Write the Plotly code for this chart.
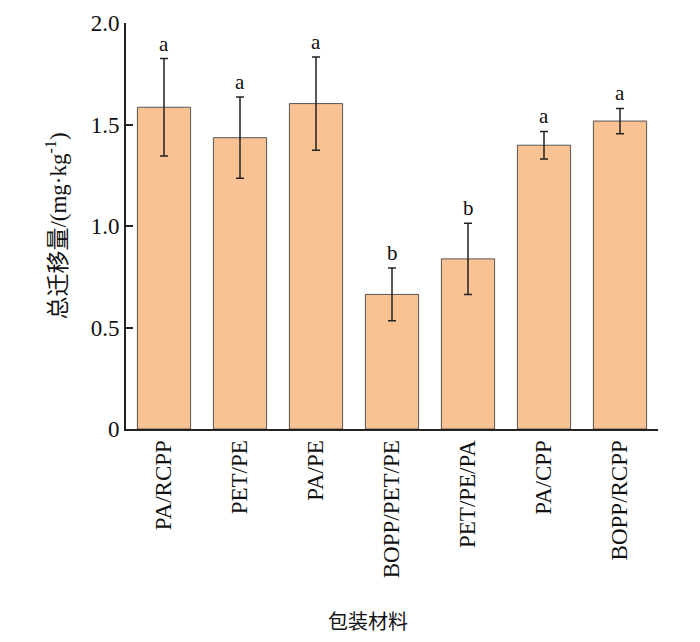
import plotly.graph_objects as go

categories = ["PA/RCPP", "PET/PE", "PA/PE", "BOPP/PET/PE", "PET/PE/PA", "PA/CPP", "BOPP/RCPP"]
values = [1.585, 1.435, 1.603, 0.663, 0.838, 1.398, 1.517]
errors = [0.24, 0.20, 0.23, 0.13, 0.175, 0.068, 0.062]
letters = ["a", "a", "a", "b", "b", "a", "a"]
ytick_vals = [0, 0.5, 1.0, 1.5, 2.0]
ytick_text = ["0", "0.5", "1.0", "1.5", "2.0"]

FONT = "Liberation Serif, Times New Roman, Noto Sans CJK SC, serif"

fig = go.Figure()
fig.add_trace(go.Bar(
    x=categories, y=values, width=0.7,
    marker=dict(color="#F8C293", line=dict(color="#555555", width=1)),
    error_y=dict(type="data", array=errors, visible=True, color="#222222", thickness=1.5, width=4),
    showlegend=False,
))

for c, v, e, t in zip(categories, values, errors, letters):
    fig.add_annotation(x=c, y=v + e, text=t, showarrow=False, yanchor="bottom", yshift=1,
                       font=dict(family=FONT, size=21, color="#111111"))

fig.add_annotation(xref="paper", yref="paper", x=(368 - 126) / (658 - 126), y=-(620 - 429) / (429 - 23),
                   text="包装材料", showarrow=False, xanchor="center", yanchor="middle",
                   font=dict(family="Noto Sans CJK SC", size=20, color="#111111"))

fig.update_layout(
    width=684, height=626,
    margin=dict(l=118, r=34, t=15, b=205),
    plot_bgcolor="white", paper_bgcolor="white",
    font=dict(family=FONT, size=23, color="#111111"),
    bargap=0.3,
)
fig.update_xaxes(
    range=[-0.5, 6.5], showline=True, linecolor="#222222", linewidth=2,
    ticks="", tickangle=-90, tickfont=dict(family=FONT, size=23, color="#111111"),
    showgrid=False, zeroline=False, automargin=False,
)
fig.update_yaxes(
    range=[0, 2.0], showline=True, linecolor="#222222", linewidth=2,
    ticks="inside", ticklen=7, tickwidth=2, tickcolor="#222222",
    tickvals=ytick_vals, ticktext=ytick_text,
    tickfont=dict(family=FONT, size=23, color="#111111"),
    showgrid=False, zeroline=False, automargin=False,
    title=dict(text="总迁移量/(mg·kg<sup>-1</sup>)", standoff=18,
               font=dict(family="Liberation Serif, Noto Sans CJK SC", size=23, color="#111111")),
)

fig.write_html("out.html")
